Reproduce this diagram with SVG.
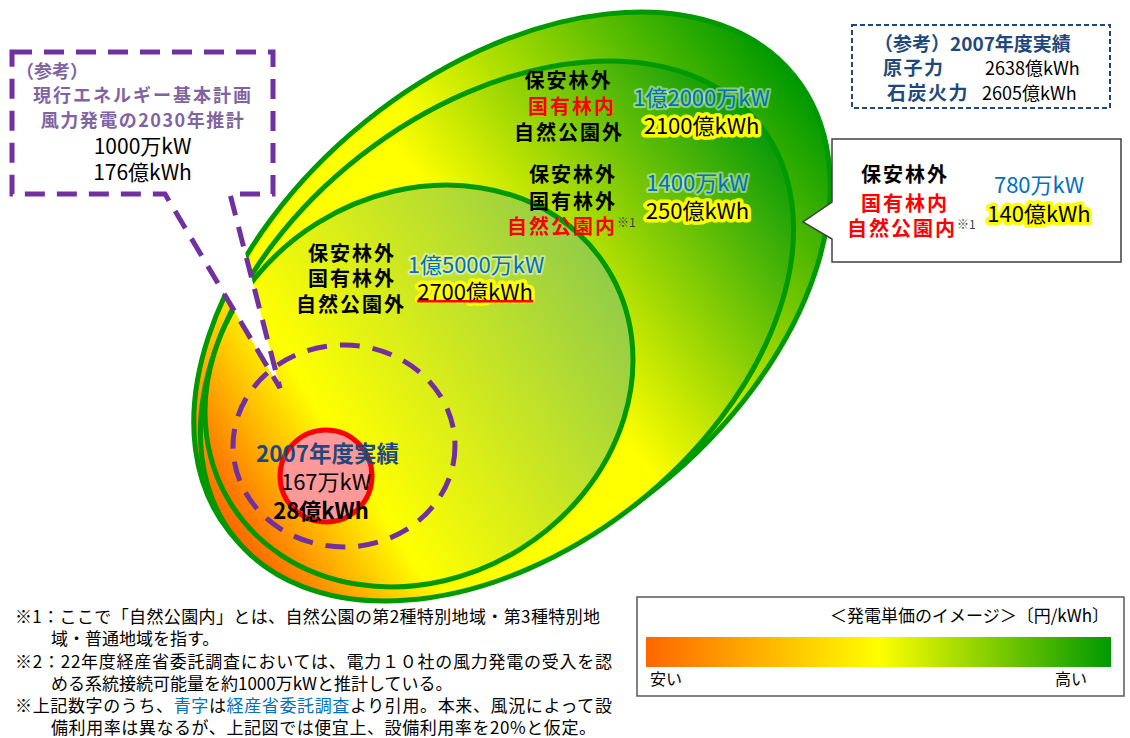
<svg xmlns="http://www.w3.org/2000/svg" width="1130" height="738" viewBox="0 0 1130 738">
<defs>
<linearGradient id="gOuter" x1="0" y1="0.5" x2="1" y2="0.5">
<stop offset="0" stop-color="#FF6600"/><stop offset="0.25" stop-color="#FFFF00"/><stop offset="0.55" stop-color="#FFFF00"/><stop offset="1" stop-color="#009900"/>
</linearGradient>
<linearGradient id="gMiddle" x1="0" y1="0.5" x2="1" y2="0.5">
<stop offset="0" stop-color="#FF6600"/><stop offset="0.2" stop-color="#FFFF00"/><stop offset="0.55" stop-color="#FFFF00"/><stop offset="1" stop-color="#0A9A0A"/>
</linearGradient>
<linearGradient id="gInner" x1="0" y1="0.5" x2="1" y2="0.5">
<stop offset="0" stop-color="#FF7000"/><stop offset="0.28" stop-color="#FFFF00"/><stop offset="1" stop-color="#92CC48"/>
</linearGradient>
<linearGradient id="gBar" x1="0" y1="0" x2="1" y2="0">
<stop offset="0" stop-color="#FF6600"/><stop offset="0.5" stop-color="#FFFF00"/><stop offset="1" stop-color="#009900"/>
</linearGradient>
</defs>
<style>
text{font-family:"Noto Sans CJK JP","Noto Sans CJK SC","Noto Sans",sans-serif;}
.area{stroke:#009900;stroke-width:5;}
.lbl{font-size:20px;font-weight:bold;letter-spacing:2px;text-anchor:middle;fill:#000}
.red{fill:#FF0000}
.num{font-size:22px;text-anchor:middle}
.blue{fill:#0070C0;stroke:#ffffff;stroke-opacity:0.45;stroke-width:4;stroke-linejoin:round;paint-order:stroke}
.glow{fill:#000;stroke:#FFFF00;stroke-width:7;stroke-linejoin:round;paint-order:stroke}
.sup{font-size:12px;fill:#404040}
.purple{fill:#8064A2;font-weight:bold}
.navy{fill:#1F497D;font-weight:bold}
.notes{font-size:17px;fill:#000}
.bluetxt{fill:#0070C0}
.pdash{fill:none;stroke:#7030A0;stroke-width:5}
</style>

<g id="area-outer">
<ellipse cx="512" cy="304" rx="363" ry="234" transform="rotate(-39 512 304)" fill="url(#gOuter)" class="area"/>
</g>
<g id="area-middle">
<ellipse cx="497" cy="331" rx="334" ry="222" transform="rotate(-38 497 331)" fill="url(#gMiddle)" class="area"/>
</g>
<g id="area-inner">
<ellipse cx="419" cy="386" rx="222" ry="192" transform="rotate(-32 419 386)" fill="url(#gInner)" class="area"/>
</g>

<g id="connectors"></g>

<g id="callout-2030">
<path d="M12,52 H273 V194 H230 L280,388 L165,194 H12 Z" fill="#ffffff" stroke="#7030A0" stroke-width="5" stroke-dasharray="20 12"/>
<text x="16" y="78" class="purple" font-size="18">（参考）</text>
<text x="143" y="102" class="purple" font-size="18" text-anchor="middle" letter-spacing="2">現行エネルギー基本計画</text>
<text x="143" y="127" class="purple" font-size="18" text-anchor="middle" letter-spacing="1.5">風力発電の2030年推計</text>
<text x="142.5" y="154" font-size="21" text-anchor="middle" fill="#000">1000万kW</text>
<text x="142.5" y="180" font-size="21" text-anchor="middle" fill="#000">176億kWh</text>
</g>

<g id="dashed-circle">
<ellipse cx="344" cy="446" rx="111" ry="101" class="pdash" stroke-dasharray="20 13"/>
</g>

<g id="actual-2007">
<circle cx="326" cy="476" r="46" fill="#FF9999" stroke="#FF0000" stroke-width="5"/>
<text x="327.5" y="462" font-size="22.5" text-anchor="middle" class="navy">2007年度実績</text>
<text x="326" y="490" class="num" fill="#000" font-size="21.5">167万kW</text>
<text x="321" y="519" class="num" fill="#000" font-weight="bold" font-size="21.5">28億kWh</text>
</g>

<g id="label-inner">
<text x="352" y="261" class="lbl">保安林外</text>
<text x="352" y="286" class="lbl">国有林外</text>
<text x="351" y="312" class="lbl">自然公園外</text>
<text x="476" y="273" class="num blue">1億5000万kW</text>
<text x="475" y="300" class="num glow">2700億kWh</text>
<rect x="417" y="300" width="116" height="2.5" fill="#FF0000"/>
</g>

<g id="label-middle">
<text x="573" y="182" class="lbl">保安林外</text>
<text x="573" y="209" class="lbl">国有林外</text>
<text x="562" y="234" class="lbl red">自然公園内</text>
<text x="617" y="227" class="sup">※1</text>
<text x="697.5" y="191" class="num blue">1400万kW</text>
<text x="697.5" y="219" class="num glow">250億kWh</text>
</g>

<g id="label-outer">
<text x="568.5" y="88" class="lbl">保安林外</text>
<text x="572" y="114" class="lbl red">国有林内</text>
<text x="569" y="140" class="lbl">自然公園外</text>
<text x="701.5" y="106" class="num blue">1億2000万kW</text>
<text x="701.5" y="134" class="num glow">2100億kWh</text>
</g>

<g id="callout-right">
<path d="M832,139 H1121 V262 H832 V239 L803,222 L832,202 Z" fill="#ffffff" stroke="#404040" stroke-width="1.5"/>
<text x="905" y="182" class="lbl">保安林外</text>
<text x="905" y="211" class="lbl red">国有林内</text>
<text x="902" y="236" class="lbl red">自然公園内</text>
<text x="957" y="229" class="sup">※1</text>
<text x="1039" y="193" class="num blue">780万kW</text>
<text x="1039" y="222" class="num glow">140億kWh</text>
</g>

<g id="ref-2007">
<rect x="852" y="25" width="258" height="83" fill="#ffffff" stroke="#1F497D" stroke-width="2" stroke-dasharray="5 3"/>
<text x="874" y="51" font-size="19" class="navy">（参考）2007年度実績</text>
<text x="883" y="75" font-size="19" class="navy" letter-spacing="1.5">原子力</text>
<text x="985" y="75" font-size="18" fill="#000">2638億kWh</text>
<text x="887" y="100" font-size="19" class="navy" letter-spacing="1.5">石炭火力</text>
<text x="982" y="100" font-size="18" fill="#000">2605億kWh</text>
</g>

<g id="notes">
<text x="15" y="623" class="notes" textLength="585" lengthAdjust="spacing">※1：ここで「自然公園内」とは、自然公園の第2種特別地域・第3種特別地</text>
<text x="51" y="645" class="notes">域・普通地域を指す。</text>
<text x="15" y="668" class="notes" textLength="597" lengthAdjust="spacing">※2：22年度経産省委託調査においては、電力１０社の風力発電の受入を認</text>
<text x="51" y="690" class="notes">める系統接続可能量を約1000万kWと推計している。</text>
<text x="15" y="712" class="notes" textLength="597" lengthAdjust="spacing">※上記数字のうち、<tspan class="bluetxt">青字</tspan>は<tspan class="bluetxt">経産省委託調査</tspan>より引用。本来、風況によって設</text>
<text x="51" y="734" class="notes" textLength="545" lengthAdjust="spacing">備利用率は異なるが、上記図では便宜上、設備利用率を20%と仮定。</text>
</g>

<g id="legend">
<rect x="637" y="597" width="487" height="99" fill="#ffffff" stroke="#595959" stroke-width="1.5"/>
<text x="830" y="622" font-size="17" fill="#000">＜発電単価のイメージ＞〔円/kWh〕</text>
<rect x="646" y="637" width="465" height="30" fill="url(#gBar)"/>
<text x="650" y="685" font-size="16" fill="#000">安い</text>
<text x="1055" y="685" font-size="16" fill="#000">高い</text>
</g>
</svg>
